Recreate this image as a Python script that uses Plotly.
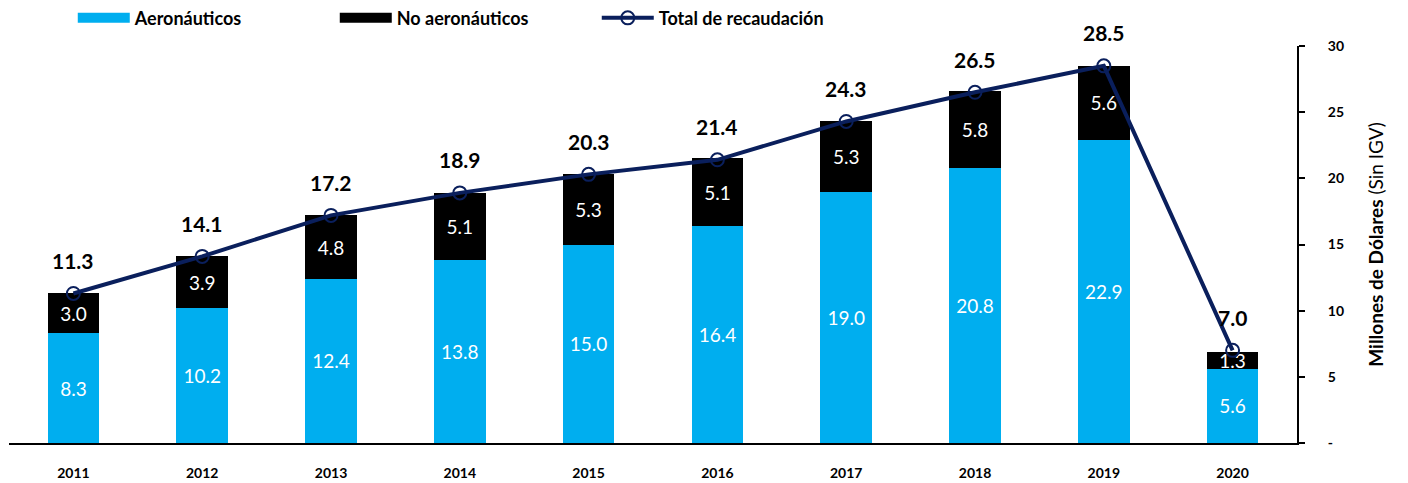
import plotly.graph_objects as go

years = ["2011", "2012", "2013", "2014", "2015", "2016", "2017", "2018", "2019", "2020"]
aeronauticos = [8.3, 10.2, 12.4, 13.8, 15.0, 16.4, 19.0, 20.8, 22.9, 5.6]
no_aeronauticos = [3.0, 3.9, 4.8, 5.1, 5.3, 5.1, 5.3, 5.8, 5.6, 1.3]
total = [11.3, 14.1, 17.2, 18.9, 20.3, 21.4, 24.3, 26.5, 28.5, 7.0]

y_ticks = [0, 5, 10, 15, 20, 25, 30]
y_ticktext = ["-", "5", "10", "15", "20", "25", "30"]

FONT = "Lato"
BLUE = "#00AEEF"
NAVY = "#0A1F5C"

fig = go.Figure()

fig.add_trace(go.Bar(
    x=years, y=aeronauticos, name="Aeronáuticos", showlegend=False,
    marker=dict(color=BLUE, line=dict(width=0)),
    text=[f"{v:.1f}" for v in aeronauticos], textposition="inside",
    insidetextanchor="middle", constraintext="none",
    textfont=dict(color="white", size=19, family=FONT),
))
fig.add_trace(go.Bar(
    x=years, y=no_aeronauticos, name="No aeronáuticos", showlegend=False,
    marker=dict(color="black", line=dict(width=0)),
    text=[f"{v:.1f}" for v in no_aeronauticos], textposition="inside",
    insidetextanchor="middle", constraintext="none",
    textfont=dict(color="white", size=19, family=FONT),
))

# wide legend swatches like the original (bar legend symbols are small squares)
for nm, col in [("Aeronáuticos", BLUE), ("No aeronáuticos", "black")]:
    fig.add_trace(go.Scatter(x=[None], y=[None], mode="lines", name=nm,
                             line=dict(color=col, width=13)))

fig.add_trace(go.Scatter(
    x=years, y=total, name="Total de recaudación", mode="lines+markers",
    line=dict(color=NAVY, width=4),
    marker=dict(symbol="circle-open", size=13, color=NAVY, line=dict(width=2)),
))

# total labels above each point (category index, numeric-looking strings confuse the axis)
for i, v in enumerate(total):
    fig.add_annotation(x=i, y=v, text=f"<b>{v:.1f}</b>", showarrow=False,
                       yshift=33, font=dict(size=21, color="black", family=FONT))

fig.update_layout(
    width=1408, height=483,
    barmode="stack", bargap=0.6,
    plot_bgcolor="white", paper_bgcolor="white",
    margin=dict(l=1, r=119, t=38, b=48, autoexpand=False),
    font=dict(family=FONT, color="black"),
    showlegend=True,
    legend=dict(orientation="h", x=0.046, y=0.979, xref="container", yref="container",
                xanchor="left", yanchor="middle", itemwidth=52,
                font=dict(size=18, family=FONT, weight="bold"),
                entrywidth=195, entrywidthmode="pixels", traceorder="normal"),
    xaxis=dict(type="category", range=[-0.5, len(years) - 0.5],
               showline=True, linecolor="black", linewidth=2, ticks="",
               ticklabelstandoff=16,
               tickfont=dict(size=14, family=FONT, weight="bold"),
               showgrid=False),
    yaxis=dict(side="right", range=[0, 30], tickvals=y_ticks, ticktext=y_ticktext,
               showline=True, linecolor="black", linewidth=2,
               ticks="outside", ticklen=6, tickwidth=1.5, tickcolor="black",
               ticklabelstandoff=20,
               showgrid=False, zeroline=False,
               tickfont=dict(size=14, family=FONT, weight="bold"),
               title=dict(text="<b>Millones de Dólares</b> (Sin IGV)",
                          font=dict(size=19, family=FONT), standoff=27)),
)

fig.write_html("out.html")
